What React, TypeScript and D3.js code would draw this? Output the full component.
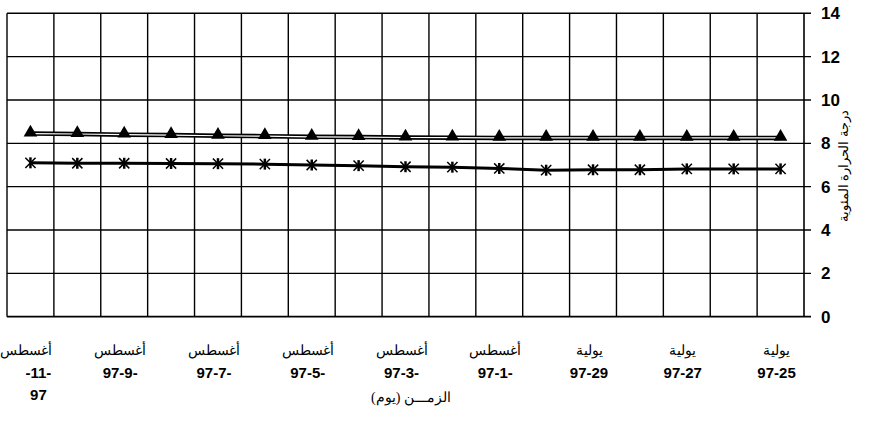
import React, { useEffect, useRef } from 'react';
import { line, scaleBand, scaleLinear, select, symbol, symbolTriangle, symbolTimes } from 'd3';

// chronological: 97-7-25 .. 97-8-11, drawn right to left
const days = ['7-25', '7-26', '7-27', '7-28', '7-29', '7-30', '8-1', '8-2', '8-3', '8-4', '8-5', '8-6', '8-7', '8-8', '8-9', '8-10', '8-11'];
const triangleSeries = [8.25, 8.25, 8.25, 8.25, 8.25, 8.25, 8.25, 8.26, 8.27, 8.29, 8.3, 8.33, 8.35, 8.38, 8.4, 8.43, 8.45];
const starSeries = [6.82, 6.82, 6.82, 6.78, 6.78, 6.76, 6.84, 6.9, 6.92, 6.97, 7.0, 7.04, 7.06, 7.07, 7.08, 7.08, 7.1];
const monthLabels = ['يولية', 'يولية', 'يولية', 'أغسطس', 'أغسطس', 'أغسطس', 'أغسطس', 'أغسطس', 'أغسطس'];
const dayLabels = [['97-25'], ['97-27'], ['97-29'], ['97-1-'], ['97-3-'], ['97-5-'], ['97-7-'], ['97-9-'], ['-11-', '97']];
const yTicks = [0, 2, 4, 6, 8, 10, 12, 14];

const App = () => {
  const ref = useRef<SVGSVGElement | null>(null);

  useEffect(() => {
    const svg = select(ref.current);
    svg.selectAll('*').remove();

    const left = 7;
    const right = 804;
    const top = 13.3;
    const bottom = 316.7;

    const x = scaleBand().domain(days).range([right, left]);
    const y = scaleLinear().domain([0, 14]).range([bottom, top]);
    const cx = (d: string) => (x(d) ?? 0) + x.bandwidth() / 2;

    const g = svg.append('g');

    // vertical grid
    days.forEach((d) => {
      g.append('line')
        .attr('x1', x(d) ?? 0).attr('x2', x(d) ?? 0)
        .attr('y1', top).attr('y2', bottom)
        .attr('stroke', '#000').attr('stroke-width', 1.4);
    });
    g.append('line').attr('x1', right).attr('x2', right).attr('y1', top).attr('y2', bottom)
      .attr('stroke', '#000').attr('stroke-width', 1.6);

    // horizontal grid + ticks
    yTicks.forEach((t) => {
      g.append('line')
        .attr('x1', left).attr('x2', right + 7)
        .attr('y1', y(t)).attr('y2', y(t))
        .attr('stroke', '#000').attr('stroke-width', t === 0 ? 1.8 : 1.4);
      g.append('text')
        .attr('x', right + 17).attr('y', y(t) + 6)
        .attr('font-family', 'Liberation Sans, Arial, sans-serif')
        .attr('font-weight', 'bold').attr('font-size', 17)
        .text(t);
    });

    const mk = line<number>().x((_, i) => cx(days[i])).y((v) => y(v));

    // triangle series
    g.append('path').attr('d', mk(triangleSeries)).attr('fill', 'none')
      .attr('stroke', '#000').attr('stroke-width', 4.5);
    g.append('path').attr('d', mk(triangleSeries)).attr('fill', 'none')
      .attr('stroke', '#fff').attr('stroke-width', 1.2);
    g.selectAll('.tri').data(triangleSeries).enter().append('path')
      .attr('d', symbol().type(symbolTriangle).size(80)())
      .attr('transform', (v, i) => `translate(${cx(days[i])},${y(v) - 1})`)
      .attr('fill', '#000');

    // star series
    g.append('path').attr('d', mk(starSeries)).attr('fill', 'none')
      .attr('stroke', '#000').attr('stroke-width', 3);
    const star = g.selectAll('.star').data(starSeries).enter().append('g')
      .attr('transform', (v, i) => `translate(${cx(days[i])},${y(v)})`);
    star.append('path')
      .attr('d', symbol().type(symbolTimes).size(70)())
      .attr('fill', '#000').attr('stroke', '#000').attr('stroke-width', 1.5);
    star.append('line').attr('x1', 0).attr('x2', 0).attr('y1', -5.5).attr('y2', 5.5)
      .attr('stroke', '#000').attr('stroke-width', 2.5);

    // x labels, every other day
    dayLabels.forEach((lines, k) => {
      const px = cx(days[k * 2]) - 4;
      g.append('text')
        .attr('x', px).attr('y', 355)
        .attr('text-anchor', 'middle')
        .attr('font-family', 'Liberation Serif, Times New Roman, serif')
        .attr('font-size', 14)
        .text(monthLabels[k]);
      lines.forEach((s, j) => {
        g.append('text')
          .attr('x', px + (lines.length > 1 ? 12 : 0)).attr('y', 378 + j * 22)
          .attr('text-anchor', 'middle')
          .attr('direction', 'ltr')
          .attr('unicode-bidi', 'bidi-override')
          .attr('font-family', 'Liberation Sans, Arial, sans-serif')
          .attr('font-weight', 'bold').attr('font-size', 15)
          .text(s);
      });
    });

    g.append('text')
      .attr('x', 411).attr('y', 402)
      .attr('text-anchor', 'middle')
      .attr('font-family', 'Liberation Serif, Times New Roman, serif')
      .attr('font-size', 14)
      .text('الزمـــن (يوم)');

    g.append('text')
      .attr('transform', 'translate(848,166) rotate(-90)')
      .attr('text-anchor', 'middle')
      .attr('font-family', 'Liberation Serif, Times New Roman, serif')
      .attr('font-size', 13)
      .text('درجة الحرارة المئوية');
  }, []);

  return (
    <svg
      ref={ref}
      width={881}
      height={424}
      style={{ position: 'absolute', left: 0, top: 0, background: '#fff' }}
    />
  );
};

export default App;
